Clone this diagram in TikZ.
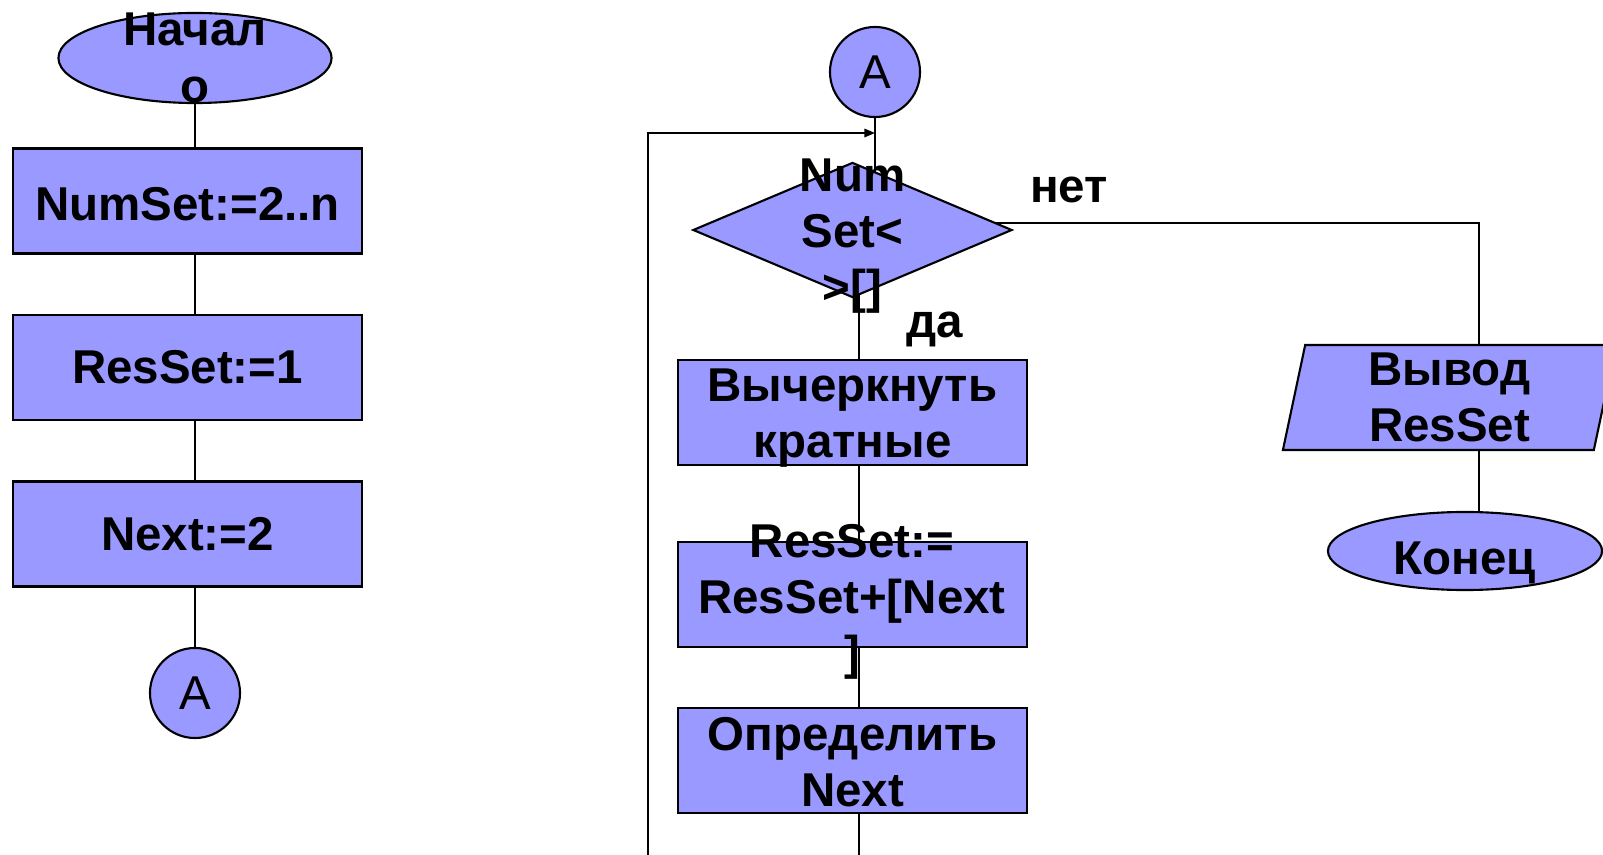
\documentclass[tikz,border=0pt]{standalone}
\usepackage{fontspec}
\setmainfont{Liberation Sans}
\usetikzlibrary{shapes.geometric,arrows.meta,backgrounds}
\definecolor{lav}{RGB}{153,153,255}
\begin{document}
\begin{tikzpicture}[x=0.01cm,y=-0.01cm,
    every node/.style={font=\fontsize{13.5}{16}\selectfont\bfseries,align=center,inner sep=0pt},
    block/.style={draw=black,line width=0.6pt,fill=lav,rectangle,minimum width=3.49cm,minimum height=1.05cm},
    term/.style={draw=black,line width=0.6pt,fill=lav,ellipse},
    conn/.style={draw=black,line width=0.6pt,fill=lav,circle,minimum size=0.9cm,font=\fontsize{13.5}{16}\selectfont},
    dec/.style={draw=black,line width=0.6pt,fill=lav,diamond,minimum width=3.19cm,minimum height=1.35cm},
    io/.style={draw=black,line width=0.6pt,fill=lav,trapezium,trapezium left angle=76,trapezium right angle=104,
        trapezium stretches body,minimum width=3.33cm,minimum height=1.05cm},
    flow/.style={line width=0.45pt}]
    \useasboundingbox (0,0) rectangle (1603,855);
    \node[term,minimum width=2.73cm,minimum height=0.9cm] (start) at (195,58) {};
    \node (starttxt) at (195,58) {Начал\\о};
    \node[block] (numset) at (187.5,201) {};
    \node (numsettxt) at (187.5,204) {NumSet:=2..n};
    \node[block] (resset) at (187.5,367.5) {ResSet:=1};
    \node[block] (nxt) at (187.5,534) {Next:=2};
    \node[conn] (a1) at (195,693) {A};

    \node[conn] (a2) at (875,72) {A};
    \node[dec] (dia) at (852.5,230) {};
    \node (diatxt) at (852.5,236) {Num\\Set<\\>[]};
    \node[block] (cross) at (852.5,412.5) {};
    \node (crosstxt) at (852.5,418) {Вычеркнуть\\кратные};
    \node[block] (addres) at (852.5,594.5) {};
    \node (addtxt) at (852,602) {ResSet:=\\ResSet+[Next\\]};
    \node[block] (find) at (852.5,760.5) {};
    \node (findtxt) at (852.5,762) {Определить\\Next};
    \node[io] (out) at (1449.5,397.5) {Вывод\\ResSet};
    \node[term,minimum width=2.74cm,minimum height=0.78cm] (fin) at (1465,551) {};
    \node[anchor=base] (fintxt) at (1465,574) {Конец};
    \node[anchor=base] (no) at (1069,203) {нет};
    \node[anchor=base] (yes) at (935,338) {да};
    \coordinate (join) at (875,133);
    \coordinate (bot) at (648,900);

    \begin{scope}[on background layer]
        \draw[flow] (start) -- (start |- numset) -- (start |- resset) -- (start |- nxt) -- (a1);
        \draw[flow] (a2) -- (a2 |- dia);
        \draw[flow] ([xshift=0.065cm]dia.center) -- ([xshift=0.065cm]find.center);
        \draw[flow,-{Triangle[length=3pt,width=2.4pt]}] ([xshift=0.065cm]find.center) |- (bot) |- (join);
        \draw[flow] ([yshift=0.07cm]dia.center) -| ([xshift=0.14cm]fin.center);
    \end{scope}
\end{tikzpicture}
\end{document}
